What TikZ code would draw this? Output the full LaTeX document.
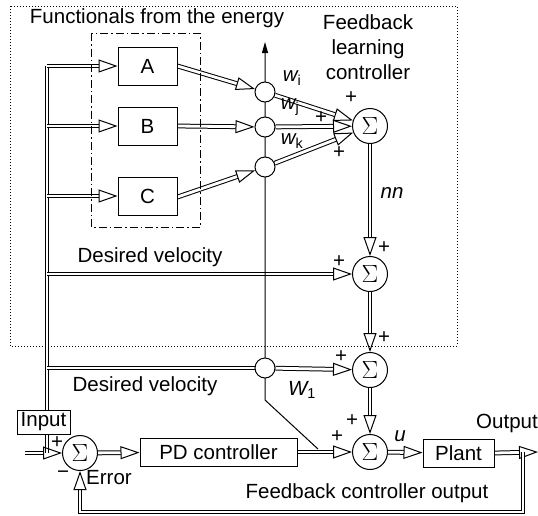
\documentclass[tikz,border=0pt]{standalone}
\usepackage{fontspec}
\setmainfont{Liberation Sans}
\usetikzlibrary{arrows.meta,backgrounds}
\begin{document}
\begin{tikzpicture}[x=1pt,y=-1pt,
  every node/.style={font=\fontsize{20.5}{23}\selectfont},
  lw/.style={line width=1pt},
  box/.style={draw, lw, minimum width=59pt, minimum height=38pt, inner sep=0pt, fill=white},
  wbox/.style={draw, lw, minimum height=28pt, inner sep=0pt, fill=white},
  dbl/.style={draw, lw, double, double distance=2.8pt},
  dar/.style={dbl, -{Triangle[open, length=19pt, width=13pt]}},
  sig/.style={draw, circle, lw, minimum size=35pt, inner sep=0pt, fill=white, font=\fontsize{30}{30}\selectfont},
  junc/.style={draw, circle, lw, minimum size=20pt, inner sep=0pt, fill=white},
  lbl/.style={inner sep=0pt}
]
\useasboundingbox (0,0) rectangle (538,515);
% frames
\draw[lw, dash pattern=on 1pt off 2pt] (10,6) rectangle (457,346);
\draw[lw, dash pattern=on 8pt off 3pt on 1.5pt off 3pt] (91,33) rectangle (200,227);
% nodes
\node[box] (A) at (147.5,66) {A};
\node[box] (B) at (147.5,126) {B};
\node[box] (C) at (147.5,196) {C};
\node[junc] (ci) at (265,92) {};
\node[junc] (cj) at (265,127) {};
\node[junc] (ck) at (265,167) {};
\node[junc] (cw) at (265,368) {};
\node[sig] (S1) at (370,126) {$\Sigma$};
\node[sig] (S2) at (370,274) {$\Sigma$};
\node[sig] (S3) at (370,370) {$\Sigma$};
\node[sig] (S4) at (370,452) {$\Sigma$};
\node[sig] (S0) at (80,453) {$\Sigma$};
\node[wbox, minimum width=157pt] (PD) at (218.5,452) {PD controller};
\node[wbox, minimum width=71pt] (P) at (458.5,453) {Plant};
\node[draw, lw, fill=white, minimum width=53pt, minimum height=24pt, inner sep=0pt] (IN) at (43.5,422) {Input};
% coordinates
\coordinate (bt) at (47,66);
\coordinate (bb) at (47,453);
\coordinate (bB) at (47,126);
\coordinate (bC) at (47,196);
\coordinate (bD) at (47,274);
\coordinate (bW) at (47,368);
\coordinate (in0) at (25,453);
\coordinate (out) at (538,452);
\coordinate (fb0) at (523,452);
\coordinate (fb1) at (523,512);
\coordinate (fb2) at (80,512);
\coordinate (vt) at (265,42);
\coordinate (vb) at (265,400);
\coordinate (dg) at (318,449);
\begin{scope}[on background layer]
% bus
\draw[dbl] (bt) -- (bb);
\draw[dar] (bt) -- (A.west);
\draw[dar] (bB) -- (B.west);
\draw[dar] (bC) -- (C.west);
\draw[dar] (bD) -- (S2.west);
\draw[dbl] (bW) -- (cw.west);
\draw[dar] (in0) -- (S0.west);
% to junctions
\draw[dar] (A.east) -- (ci);
\draw[dar] (B.east) -- (cj);
\draw[dar] ([yshift=-1pt]C.east) -- (ck);
\draw[dar] (ci) -- (S1);
\draw[dar] (cj) -- (S1);
\draw[dar] (ck) -- (S1);
% sigma chain
\draw[dar] (S1) -- (S2);
\draw[dar] (S2) -- (S3);
\draw[dar] (S3) -- (S4);
\draw[dar] (cw) -- (S3);
\draw[dar] (S0) -- (PD);
\draw[dar] (PD) -- (S4);
\draw[dar] (S4) -- (P);
\draw[dar] (P.east) -- (out);
\draw[dar] (fb0) -- (fb1) -- (fb2) -- (S0.south);
% thin vertical line
\draw[lw, -{Triangle[length=11pt, width=6pt]}] (dg) -- (vb) -- (vt);
\end{scope}
% labels
\node[lbl] at (157,18) {Functionals from the energy};
\node[lbl, align=center, font=\fontsize{20.5}{25}\selectfont] at (368,47) {Feedback\\learning\\controller};
\node[lbl] at (292,78) {\itshape w\upshape\textsubscript{i}};
\node[lbl] at (290,107) {\itshape w\upshape\textsubscript{j}};
\node[lbl] at (292,141) {\itshape w\upshape\textsubscript{k}};
\node[lbl] at (351,98) {+};
\node[lbl] at (321,118) {+};
\node[lbl] at (339,153) {+};
\node[lbl] at (392,193) {\itshape nn};
\node[lbl] at (384,248) {+};
\node[lbl] at (339,262) {+};
\node[lbl] at (384,338) {+};
\node[lbl] at (341,357) {+};
\node[lbl] at (352,421) {+};
\node[lbl] at (337,437) {+};
\node[lbl] at (150,257) {Desired velocity};
\node[lbl] at (145,386) {Desired velocity};
\node[lbl] at (302,390) {\itshape W\upshape\textsubscript{1}};
\node[lbl] at (57,443) {+};
\node[lbl] at (63,475) {\textminus};
\node[lbl] at (109,478) {Error};
\node[lbl] at (400,436) {\itshape u};
\node[lbl] at (507,423) {Output};
\node[lbl] at (367,493) {Feedback controller output};
\end{tikzpicture}
\end{document}
